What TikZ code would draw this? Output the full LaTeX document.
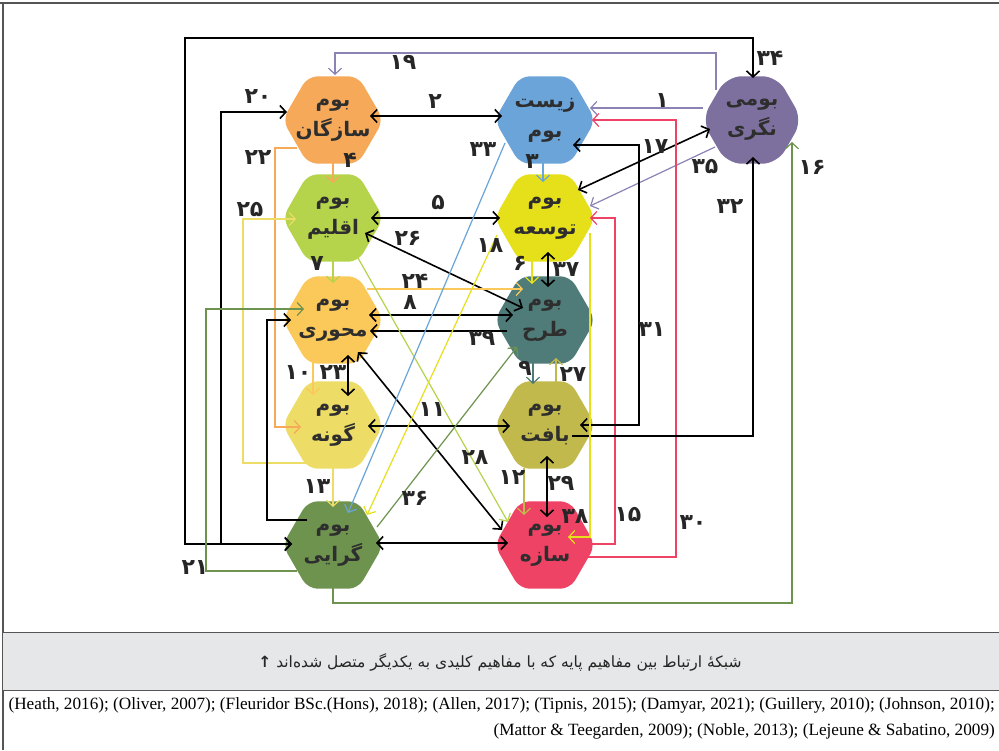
\documentclass[tikz,border=0pt]{standalone}
\usepackage{fontspec}
\usepackage{graphicx}
\setmainfont{Liberation Serif}
\newfontfamily\fa[Script=Arabic]{DejaVu Sans}
\TeXXeTstate=1
\usetikzlibrary{arrows.meta,shapes.geometric,calc}
\definecolor{cOrg}{HTML}{F7A95A}
\definecolor{cBio}{HTML}{6BA4D8}
\definecolor{cNat}{HTML}{7D709F}
\definecolor{cNatL}{HTML}{8C82B4}
\definecolor{cEql}{HTML}{B5D34B}
\definecolor{cTos}{HTML}{E6E01B}
\definecolor{cMah}{HTML}{FBC95A}
\definecolor{cTrh}{HTML}{4F7B78}
\definecolor{cGon}{HTML}{EDDC66}
\definecolor{cBft}{HTML}{C1B94C}
\definecolor{cGra}{HTML}{6E934F}
\definecolor{cSaz}{HTML}{EF4366}
\definecolor{cTxt}{HTML}{2E2E2E}
\definecolor{cCap}{HTML}{E6E7E8}
\definecolor{cFrame}{HTML}{555555}
\begin{document}
\begin{tikzpicture}[x=1pt,y=-1pt,
  hexa/.style={regular polygon, regular polygon sides=6, minimum size=101pt, inner sep=0pt, rounded corners=10pt, draw=none},
  ntext/.style={font=\fa\bfseries\fontsize{20}{30}\selectfont, text=cTxt, align=center, inner sep=0pt},
  num/.style={font=\fa\bfseries\fontsize{22}{24}\selectfont, text=black!85, inner sep=0pt},
  bl/.style={draw=black, line width=1.6pt},
  cl/.style={line width=1.2pt},
  >={Straight Barb[length=6pt,width=13pt]}]
\useasboundingbox (0,0) rectangle (999,750);
\fill[white] (0,0) rectangle (999,750);
% frame
\draw[cFrame, line width=1.2pt] (0,3) -- (999,3);
\draw[cFrame, line width=1.2pt] (3,3) -- (3,750);
\fill[cCap] (3,632) rectangle (999,690);
\draw[cFrame, line width=0.8pt] (3,632) -- (999,632);
\draw[cFrame, line width=0.8pt] (3,690) -- (999,690);

% nodes
\node[hexa, fill=cOrg] (org) at (333,120) {};
\node[hexa, fill=cBio] (bio) at (545,120) {};
\node[hexa, fill=cNat, rounded corners=15pt] (nat) at (752,120) {};
\node[hexa, fill=cEql] (eql) at (333,218) {};
\node[hexa, fill=cTos] (tos) at (545,218) {};
\node[hexa, fill=cMah] (mah) at (333,320) {};
\node[hexa, fill=cTrh] (trh) at (545,320) {};
\node[hexa, fill=cGon] (gon) at (333,425) {};
\node[hexa, fill=cBft] (bft) at (545,425) {};
\node[hexa, fill=cGra] (gra) at (333,545) {};
\node[hexa, fill=cSaz] (saz) at (545,545) {};

\node[ntext] (orgT) at (org) {\beginR بوم\endR\\\beginR سازگان\endR};
\node[ntext] (bioT) at (bio) {\beginR زیست\endR\\\beginR بوم\endR};
\node[ntext] (natT) at (nat) {\beginR بومی\endR\\\beginR نگری\endR};
\node[ntext] (eqlT) at (eql) {\beginR بوم\endR\\\beginR اقلیم\endR};
\node[ntext] (tosT) at (tos) {\beginR بوم\endR\\\beginR توسعه\endR};
\node[ntext] (mahT) at (mah) {\beginR بوم\endR\\\beginR محوری\endR};
\node[ntext] (trhT) at (trh) {\beginR بوم\endR\\\beginR طرح\endR};
\node[ntext] (gonT) at (gon) {\beginR بوم\endR\\\beginR گونه\endR};
\node[ntext] (bftT) at (bft) {\beginR بوم\endR\\\beginR بافت\endR};
\node[ntext] (graT) at (gra) {\beginR بوم\endR\\\beginR گرایی\endR};
\node[ntext] (sazT) at (saz) {\beginR بوم\endR\\\beginR سازه\endR};

% connectors
\draw[cl,cNatL,->] ($(nat)+(-49,-12)$) -- ($(bio)+(45,-12)$);
\draw[cl,cNatL,->] ($(nat)+(-36,-30)$) |- ($(org)+(2,-67)$) -- ($(org)+(2,-45)$);
\draw[cl,cNatL,->] ($(nat)+(-37,27)$) -- ($(tos)+(45,-12)$);
\draw[bl,<->] ($(nat)+(-42,9)$) -- ($(tos)+(33,-28)$);
\draw[bl,<->] ($(gra)+(-41,-1)$) -| ($(org)+(-148,-82)$) -| ($(nat)+(1,-42)$);
\draw[bl,<->] ($(gra)+(-41,-1)$) -| ($(org)+(-112,-8)$) -- ($(org)+(-46,-8)$);
\draw[cl,cSaz,->] ($(saz)+(43,12)$) -| ($(bio)+(131,0)$) -- ($(bio)+(47,0)$);
\draw[cl,cSaz,->] ($(saz)+(47,-1)$) -| ($(tos)+(70,0)$) -- ($(tos)+(45,0)$);
\draw[bl,<->] ($(bio)+(28,25)$) -- ($(bio)+(94,25)$) |- ($(bft)+(35,0)$);
\draw[bl,->] ($(bft)+(27,11)$) -| ($(nat)+(1,37)$);
\draw[cl,cGra,->] ($(gra)+(0,42)$) -- ($(gra)+(0,58)$) -| ($(nat)+(40,22)$);
\draw[cl,cOrg,->] ($(org)+(-36,28)$) -| ($(gon)+(-58,2)$) -- ($(gon)+(-32,2)$);
\draw[cl,cGon,->] ($(gon)+(-26,38)$) -| ($(eql)+(-90,1)$) -- ($(eql)+(-37,1)$);
\draw[bl,->] ($(gra)+(-26,-25)$) -| ($(mah)+(-66,0)$) -- ($(mah)+(-42,0)$);
\draw[cl,cGra,->] ($(gra)+(-36,26)$) -| ($(mah)+(-127,-11)$) -- ($(mah)+(-29,-11)$);
\draw[cl,cTos,->] ($(tos)+(45,15)$) -- ($(saz)+(45,-8)$) -- ($(saz)+(23,-8)$);
% verticals
\draw[cl,cOrg,->] ($(org)+(0,42)$) -- ($(eql)+(0,-35)$);
\draw[cl,cEql,->] ($(eql)+(0,40)$) -- ($(mah)+(0,-37)$);
\draw[cl,cMah,->] ($(mah)+(-20,42)$) -- ($(gon)+(-20,-30)$);
\draw[bl,<->] ($(mah)+(15,35)$) -- ($(gon)+(15,-29)$);
\draw[cl,cGon,->] ($(gon)+(0,42)$) -- ($(gra)+(0,-38)$);
\draw[cl,cBio,->] ($(bio)+(-2,42)$) -- ($(tos)+(-2,-36)$);
\draw[cl,cTos,->] ($(tos)+(-13,42)$) -- ($(trh)+(-13,-36)$);
\draw[bl,<->] ($(tos)+(3,34)$) -- ($(trh)+(3,-33)$);
\draw[cl,cTrh,->] ($(trh)+(-12,40)$) -- ($(bft)+(-12,-41)$);
\draw[cl,cBft,->] ($(bft)+(11,-41)$) -- ($(trh)+(11,38)$);
\draw[cl,cBft,->] ($(bft)+(-21,43)$) -- ($(saz)+(-21,-30)$);
\draw[bl,<->] ($(bft)+(2,31)$) -- ($(saz)+(2,-28)$);
% horizontals and diagonals
\draw[bl,<->] ($(org)+(37,-4)$) -- ($(bio)+(-43,-4)$);
\draw[bl,<->] ($(eql)+(38,0)$) -- ($(tos)+(-45,0)$);
\draw[bl,<->] ($(eql)+(32,15)$) -- ($(trh)+(-22,-12)$);
\draw[cl,cMah,->] ($(mah)+(34,-31)$) -- ($(trh)+(-22,-31)$);
\draw[bl,<->] ($(mah)+(36,-5)$) -- ($(trh)+(-32,-5)$);
\draw[bl,->] ($(trh)+(-38,11)$) -- ($(mah)+(37,11)$);
\draw[bl,<->] ($(mah)+(25,32)$) -- ($(saz)+(-43,-15)$);
\draw[cl,cEql,->] ($(eql)+(25,40)$) -- ($(saz)+(-37,-23)$);
\draw[bl,<->] ($(gon)+(35,1)$) -- ($(bft)+(-35,1)$);
\draw[bl,<->] ($(gra)+(43,-2)$) -- ($(saz)+(-37,-2)$);
\draw[cl,cBio,->] ($(bio)+(-40,23)$) -- ($(gra)+(15,-32)$);
\draw[cl,cTos,->] ($(tos)+(-48,17)$) -- ($(gra)+(34,-30)$);
\draw[cl,cGra,->] ($(gra)+(44,-18)$) -- ($(trh)+(-28,27)$);

% labels
\node[num] (n1) at (662,101) {۱};
\node[num] (n2) at (435,102) {۲};
\node[num] (n3) at (532,162) {۳};
\node[num] (n4) at (350,160) {۴};
\node[num] (n5) at (438,203) {۵};
\node[num] (n6) at (520,263) {۶};
\node[num] (n7) at (317,264) {۷};
\node[num] (n8) at (410,303) {۸};
\node[num] (n9) at (525,368) {۹};
\node[num] (n10) at (298,373) {۱۰};
\node[num] (n11) at (432,410) {۱۱};
\node[num] (n12) at (512,478) {۱۲};
\node[num] (n13) at (317,487) {۱۳};
\node[num] (n15) at (628,515) {۱۵};
\node[num] (n16) at (812,167) {۱۶};
\node[num] (n17) at (655,147) {۱۷};
\node[num] (n18) at (490,246) {۱۸};
\node[num] (n19) at (403,62) {۱۹};
\node[num] (n20) at (258,97) {۲۰};
\node[num] (n21) at (195,568) {۲۱};
\node[num] (n22) at (258,158) {۲۲};
\node[num] (n23) at (333,373) {۲۳};
\node[num] (n24) at (415,281) {۲۴};
\node[num] (n25) at (250,210) {۲۵};
\node[num] (n26) at (408,238) {۲۶};
\node[num] (n27) at (573,375) {۲۷};
\node[num] (n28) at (475,458) {۲۸};
\node[num] (n29) at (561,483) {۲۹};
\node[num] (n30) at (693,523) {۳۰};
\node[num] (n31) at (652,330) {۳۱};
\node[num] (n32) at (730,207) {۳۲};
\node[num] (n33) at (483,150) {۳۳};
\node[num] (n34) at (770,58) {۳۴};
\node[num] (n35) at (705,167) {۳۵};
\node[num] (n36) at (415,498) {۳۶};
\node[num] (n37) at (566,270) {۳۷};
\node[num] (n38) at (575,517) {۳۸};
\node[num] (n39) at (482,338) {۳۹};

% caption and references
\node[font=\fa\fontsize{15.5}{18}\selectfont, text=black!85] (cap) at (500,662) {\beginR شبکهٔ ارتباط بین مفاهیم پایه که با مفاهیم کلیدی به یکدیگر متصل شده^^^^200cاند \textbf{↑}\endR};
\node[font=\fontsize{17.2}{20}\selectfont, anchor=east, inner sep=0pt] (ref1) at (995,705) {(Heath, 2016); (Oliver, 2007); (Fleuridor BSc.(Hons), 2018); (Allen, 2017); (Tipnis, 2015); (Damyar, 2021); (Guillery, 2010); (Johnson, 2010);};
\node[font=\fontsize{17.2}{20}\selectfont, anchor=east, inner sep=0pt] (ref2) at (995,731) {(Mattor \& Teegarden, 2009); (Noble, 2013); (Lejeune \& Sabatino, 2009)};
\end{tikzpicture}
\end{document}
